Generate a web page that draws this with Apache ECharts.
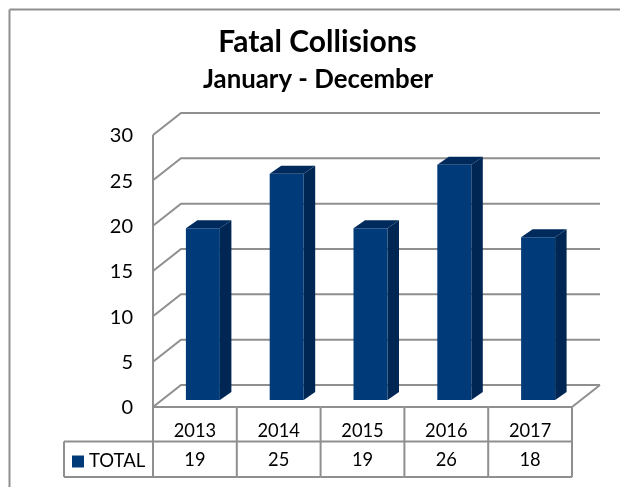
<!DOCTYPE html>
<html><head><meta charset="utf-8">
<style>html,body{margin:0;padding:0;background:#fff}#c{width:620px;height:487px}</style>
<script src="https://cdn.jsdelivr.net/npm/echarts@6/dist/echarts.min.js"></script>
</head><body><div id="c"></div>
<script>
const years = ['2013','2014','2015','2016','2017'];
const totals = [19,25,19,26,18];
const ticks = [0,5,10,15,20,25,30];
const seriesName = 'TOTAL';
const titleText = 'Fatal Collisions';
const subtitleText = 'January - December';

const LINE = '#8f8f8f';
const FONT = 'Lato, Carlito, sans-serif';
const DX = 28, DY = 22;            // wall depth
const chart = echarts.init(document.getElementById('c'), null, {renderer:'canvas'});
chart.setOption({
  backgroundColor:'#fff',
  animation:false,
  title:[
    {text:titleText,left:312.5,top:22,textAlign:'center',textStyle:{fontFamily:FONT,fontSize:30,fontWeight:'bold',color:'#000'}},
    {text:subtitleText,left:313,top:62,textAlign:'center',textStyle:{fontFamily:FONT,fontSize:25.8,fontWeight:'bold',color:'#000'}}
  ],
  grid:{left:153,right:48,top:135,bottom:80,containLabel:false},
  legend:{show:true,left:72,top:452,itemWidth:12,itemHeight:12,itemGap:6,icon:'rect',
    data:[seriesName],textStyle:{fontFamily:FONT,fontSize:18.5,color:'#000'},padding:0},
  xAxis:{type:'category',data:years,axisLine:{show:false},axisTick:{show:false},splitLine:{show:false},
    axisLabel:{fontFamily:FONT,fontSize:18.3,color:'#000',margin:15}},
  yAxis:{type:'value',min:0,max:30,interval:5,axisLine:{show:false},axisTick:{show:false},splitLine:{show:false},
    axisLabel:{fontFamily:FONT,fontSize:20,color:'#000',margin:20,verticalAlign:'top',lineHeight:2}},
  series:[
    { // walls and gridlines
      type:'custom',silent:true,z:1,data:ticks,encode:{y:0},
      renderItem(p,api){
        const c=p.coordSys, v=api.value(0), y=api.coord([0,v])[1];
        const children=[{type:'polyline',shape:{points:[[c.x,y],[c.x+DX,y-DY],[c.x+c.width+DX,y-DY]]},style:{fill:null,stroke:LINE,lineWidth:2}}];
        if(v===0){
          children.push({type:'polyline',shape:{points:[[c.x+DX+c.width,y-DY],[c.x+c.width,y]]},style:{fill:null,stroke:LINE,lineWidth:2}});
          children.push({type:'line',shape:{x1:c.x,y1:c.y,x2:c.x,y2:y},style:{stroke:LINE,lineWidth:2}});
        }
        return {type:'group',children};
      }
    },
    { // table grid
      type:'custom',silent:true,z:2,data:years.map((y,i)=>i),encode:{x:0},
      renderItem(p,api){
        const c=p.coordSys, i=api.value(0), band=c.width/years.length;
        const x0=c.x+band*i, x1=x0+band, y0=c.y+c.height, y1=y0+34.5, y2=y0+70;
        const L=(a,b,d,e)=>({type:'line',shape:{x1:a,y1:b,x2:d,y2:e},style:{stroke:LINE,lineWidth:2}});
        const ch=[L(x0,y0,x1,y0),L(x0,y1,x1,y1),L(x0,y2,x1,y2),L(x1,y0,x1,y2)];
        if(i===0){ch.push(L(x0,y0,x0,y2),L(64,y1,x0,y1),L(64,y2,x0,y2),L(64,y1,64,y2));}
        ch.push({type:'text',style:{x:x0+band/2,y:y1+19,text:String(totals[i]),align:'center',verticalAlign:'middle',font:'18.3px '+FONT,fill:'#000'}});
        return {type:'group',children:ch};
      }
    },
    { // 3D bars
      type:'custom',name:seriesName,z:3,itemStyle:{color:'#003a78'},
      data:totals.map((v,i)=>[i,v]),encode:{x:0,y:1},
      renderItem(p,api){
        const i=api.value(0), v=api.value(1);
        const top=api.coord([i,v]), base=api.coord([i,0]);
        const bw=34, d=11.5, e=8, fx=8, fy=6.5;
        const xL=top[0]+fx-bw/2, xR=xL+bw, yT=top[1]-fy, yB=base[1]-fy-0.5;
        return {type:'group',children:[
          {type:'polygon',shape:{points:[[xR,yT],[xR+d,yT-e],[xR+d,yB-e],[xR,yB]]},style:{fill:'#002753'}},
          {type:'polygon',shape:{points:[[xL,yT],[xL+d,yT-e],[xR+d,yT-e],[xR,yT]]},style:{fill:'#002a5c'}},
          {type:'rect',shape:{x:xL,y:yT,width:bw,height:yB-yT},style:{fill:'#003a78'}}
        ]};
      }
    }
  ],
  graphic:[
    {type:'line',shape:{x1:9.5,y1:9.5,x2:620,y2:9.5},style:{stroke:LINE,lineWidth:2},z:0},
    {type:'line',shape:{x1:9.5,y1:9.5,x2:9.5,y2:487},style:{stroke:LINE,lineWidth:2},z:0}
  ]
});
</script></body></html>
